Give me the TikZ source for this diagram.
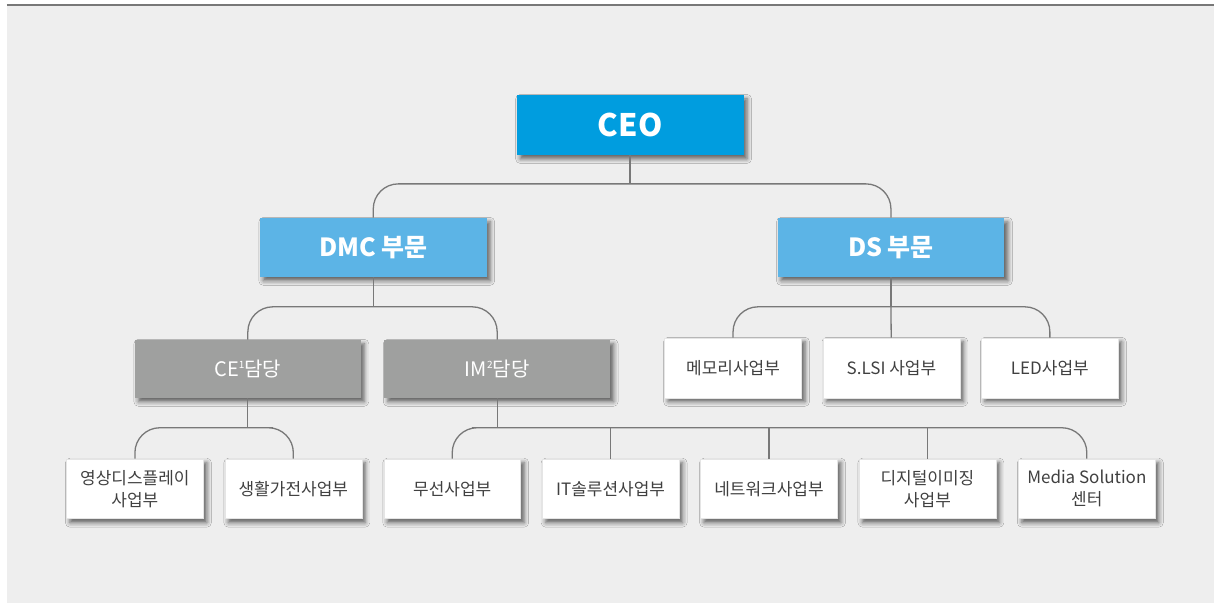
\documentclass[tikz,border=0pt]{standalone}
\usepackage{fontspec}
\setmainfont{Noto Sans CJK KR}
\usetikzlibrary{positioning,shadows.blur}

\definecolor{ceoblue}{HTML}{009DDF}
\definecolor{divblue}{HTML}{5CB4E6}
\definecolor{teamgray}{HTML}{9FA09F}
\definecolor{bggray}{HTML}{EEEEEE}
\definecolor{linegray}{HTML}{787878}
\definecolor{textgray}{HTML}{404040}

\newcommand{\supnum}[1]{\raisebox{0.75ex}{\fontsize{10}{10}\selectfont #1}}

\begin{document}
\begin{tikzpicture}[x=1pt, y=-1pt, node distance=158.5pt, align=center,
  box/.style = {rectangle, inner sep=0pt, minimum height=60pt,
    blur shadow={shadow xshift=3.5pt, shadow yshift=-4pt, shadow blur radius=4.5pt, shadow opacity=60}},
  ceo/.style = {box, fill=ceoblue, text=white, minimum width=227pt, font=\fontsize{31}{36}\selectfont\bfseries},
  dept/.style = {box, fill=divblue, text=white, minimum width=227pt, minimum height=59pt, font=\fontsize{25}{30}\selectfont\bfseries},
  team/.style = {box, fill=teamgray, text=white, minimum width=226pt, minimum height=58pt, font=\fontsize{20}{24}\selectfont},
  unit/.style = {box, fill=white, draw=black!10, text=textgray, minimum width=137pt, font=\fontsize{17}{22}\selectfont},
  link/.style = {draw=linegray, line width=1.3pt, rounded corners=25pt}]

  % frame
  \fill[white] (0,0) rectangle (1215,603);
  \fill[bggray] (7,5) rectangle (1215,603);
  \draw[linegray, line width=1.5pt] (7,5) -- (1215,5);

  % top levels
  \node[ceo] (ceo) at (630.5,125) {CEO};
  \node[dept] (dmc) at (373.5,247.5) {DMC 부문};
  \node[dept] (ds) at (891.5,247.5) {DS 부문};

  \node[team] (ce) at (248,369) {CE\supnum{1}담당};
  \node[team] (im) at (497.5,369) {IM\supnum{2}담당};

  \node[unit] (mem) at (733.5,368) {메모리사업부};
  \node[unit] (slsi) [right of=mem] {S.LSI 사업부};
  \node[unit] (led) [right of=slsi] {LED사업부};

  % business units
  \node[unit] (disp) at (135,489) {영상디스플레이\\사업부};
  \node[unit] (home) [right of=disp] {생활가전사업부};
  \node[unit] (mob) at (452.5,489) {무선사업부};
  \node[unit] (its) [right of=mob] {IT솔루션사업부};
  \node[unit] (net) [right of=its] {네트워크사업부};
  \node[unit] (dig) [right of=net] {디지털이미징\\사업부};
  \node[unit] (media) [right of=dig,xshift=1pt] {Media Solution\\센터};

  % connectors
  \coordinate (b0) at (630.5,184);
  \draw[link] (ceo) -- (b0);
  \draw[link] (dmc.north) |- (b0) -| (ds.north);

  \coordinate (b1) at (373.5,307);
  \draw[link] (dmc) -- (b1);
  \draw[link] (ce.north) |- (b1) -| (im.north);

  \coordinate (b2) at (891.5,307);
  \draw[link] (ds) -- (b2);
  \draw[link] (mem.north) |- (b2) -| (led.north);
  \draw[link] (b2) -- (slsi);

  \coordinate (b3) at (248,428);
  \draw[link] (ce) -- (b3);
  \draw[link] (disp.north) |- (b3) -| (home.north);

  \coordinate (b4) at (497.5,428);
  \draw[link] (im) -- (b4);
  \draw[link] (mob.north) |- (b4) -| (media.north);
  \draw[link] (its.north) -- (its.north |- b4);
  \draw[link] (net.north) -- (net.north |- b4);
  \draw[link] (dig.north) -- (dig.north |- b4);

\end{tikzpicture}
\end{document}
